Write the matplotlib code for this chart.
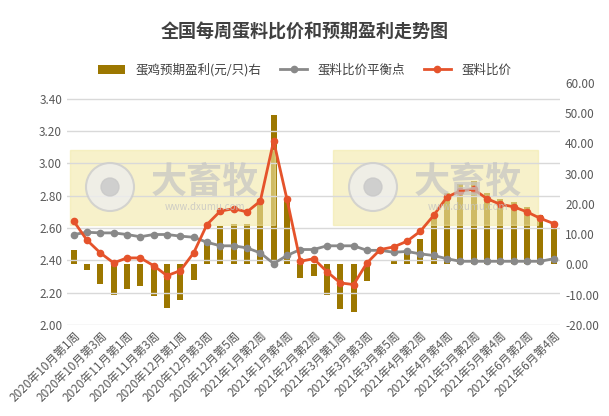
import matplotlib.pyplot as plt
from matplotlib.patches import Rectangle, Ellipse

plt.rcParams['font.family'] = ['Noto Sans CJK SC', 'DejaVu Sans']

# 周次标签
months = [("2020年10月", 4), ("2020年11月", 4), ("2020年12月", 5), ("2021年1月", 4),
          ("2021年2月", 3), ("2021年3月", 5), ("2021年4月", 4), ("2021年5月", 4), ("2021年6月", 4)]
weeks = [f"{m}第{w}周" for m, n in months for w in range(1, n + 1)]

# 蛋料比价
ratio = [2.643, 2.525, 2.446, 2.384, 2.415, 2.415, 2.367, 2.305, 2.336, 2.446,
         2.622, 2.705, 2.720, 2.700, 2.767, 3.140, 2.778, 2.394, 2.410, 2.330,
         2.260, 2.250, 2.384, 2.467, 2.483, 2.518, 2.580, 2.678, 2.792, 2.830,
         2.840, 2.782, 2.747, 2.732, 2.700, 2.660, 2.628]
# 蛋料比价平衡点
balance = [2.560, 2.574, 2.570, 2.570, 2.560, 2.546, 2.560, 2.560, 2.550, 2.543,
           2.512, 2.490, 2.490, 2.477, 2.446, 2.380, 2.430, 2.467, 2.467, 2.490,
           2.490, 2.490, 2.462, 2.462, 2.450, 2.455, 2.440, 2.430, 2.410, 2.394,
           2.394, 2.394, 2.394, 2.394, 2.394, 2.394, 2.410]
# 蛋鸡预期盈利(元/只)
profit = [4.6, -2.0, -6.6, -10.2, -8.0, -7.3, -10.6, -14.3, -11.9, -5.0,
          6.6, 12.7, 13.3, 13.3, 21.5, 49.4, 21.5, -4.5, -3.7, -10.2,
          -14.9, -15.6, -5.6, 0.0, 1.1, 4.4, 8.3, 16.5, 23.7, 26.6,
          27.7, 23.7, 21.5, 20.7, 18.9, 16.2, 13.8]

x = list(range(len(weeks)))

fig = plt.figure(figsize=(6.09, 4.16), dpi=100)
ax = fig.add_axes([0.11, 0.219, 0.81, 0.582])
ax2 = ax.twinx()

# 水印
for x0 in (70, 333):
    fig.patches.append(Rectangle((x0 / 609, 1 - 225 / 416), 205 / 609, 75 / 416,
                                 transform=fig.transFigure, color='#f2e9a8', alpha=0.6, zorder=0))
    fig.patches.append(Ellipse(((x0 + 40) / 609, 1 - 187 / 416), 48 / 609, 48 / 416,
                               transform=fig.transFigure, facecolor='#eeeeee',
                               edgecolor='#cccccc', lw=1.5, alpha=0.8))
    fig.patches.append(Ellipse(((x0 + 40) / 609, 1 - 187 / 416), 18 / 609, 18 / 416,
                               transform=fig.transFigure, color='#c8c8c8', alpha=0.8))
    fig.text((x0 + 135) / 609, 1 - 182 / 416, "大畜牧", fontsize=26, fontweight='bold',
             color='#c4c4c4', alpha=0.7, ha='center', va='center')
    fig.text((x0 + 135) / 609, 1 - 207 / 416, "www.dxumu.com", fontsize=7,
             color='#c4c4c4', alpha=0.8, ha='center', va='center')

ax2.bar(x, profit, width=0.45, color='#9c7700', label='蛋鸡预期盈利(元/只)右', zorder=2)
ax.plot(x, balance, color='#898989', lw=2, marker='o', ms=4.5, label='蛋料比价平衡点', zorder=3)
ax.plot(x, ratio, color='#e5532b', lw=2, marker='o', ms=4.5, label='蛋料比价', zorder=4)
ax.set_zorder(ax2.get_zorder() + 1)
ax.patch.set_visible(False)

ax.set_xlim(-0.5, len(x) - 0.5)
ax.set_ylim(2.0, 3.5)
ax.set_yticks([2.0 + 0.2 * i for i in range(8)])
ax.set_yticklabels([f"{2.0 + 0.2 * i:.2f}" for i in range(8)])
ax2.set_ylim(-20, 60)
ax2.set_yticks(range(-20, 61, 10))
ax2.set_yticklabels([f"{v:.2f}" for v in range(-20, 61, 10)])
ax.set_xticks(x[::2])
ax.set_xticklabels(weeks[::2], rotation=45, ha='right', rotation_mode='anchor')
ax.grid(axis='y', color='#d9d9d9', lw=1)
for a in (ax, ax2):
    for s in a.spines.values():
        s.set_visible(False)
    a.tick_params(length=0, labelsize=8.5, colors='#595959')
ax.tick_params(axis='x', pad=3)

h1, l1 = ax.get_legend_handles_labels()
h2, l2 = ax2.get_legend_handles_labels()
fig.legend(h2 + h1, l2 + l1, loc='center', bbox_to_anchor=(0.5, 1 - 70 / 416), ncol=3,
           frameon=False, fontsize=9, handlelength=2.2, columnspacing=1.5,
           labelcolor='#404040')
fig.suptitle("全国每周蛋料比价和预期盈利走势图", y=1 - 32 / 416, va='center',
             fontsize=13, fontweight='bold', color='#404040')

fig.savefig("out.png", dpi=100)
